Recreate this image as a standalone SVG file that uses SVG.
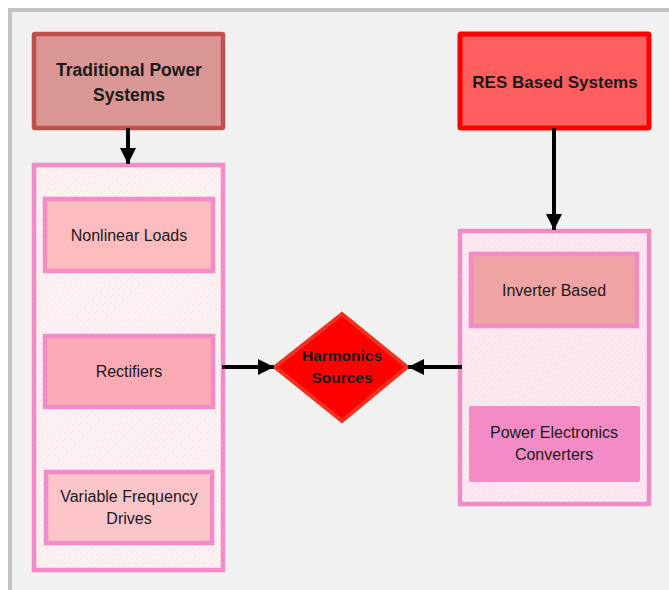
<svg xmlns="http://www.w3.org/2000/svg" width="669" height="590" viewBox="0 0 669 590">
<style>
.t{font-family:"Liberation Sans","DejaVu Sans",sans-serif;fill:#1a1a1a;text-anchor:middle}
.b{font-weight:bold;font-size:17.5px}
.r{font-size:16px}
.box{stroke:#f28cc6;stroke-width:4.5}
.con{stroke-width:4;stroke:#000}
</style>
<defs>
<pattern id="hl" width="4" height="4" patternUnits="userSpaceOnUse" patternTransform="rotate(45)">
<rect width="4" height="4" fill="#fcf1f3"/>
<line x1="0" y1="0" x2="0" y2="4" stroke="#f7e0e6" stroke-width="1"/>
</pattern>
<pattern id="hr" width="4" height="4" patternUnits="userSpaceOnUse" patternTransform="rotate(45)">
<rect width="4" height="4" fill="#fce9f2"/>
<line x1="0" y1="0" x2="0" y2="4" stroke="#f8d6e6" stroke-width="1"/>
</pattern>
<marker id="ah" viewBox="0 0 10 10" refX="10" refY="5" markerWidth="4" markerHeight="4" orient="auto" markerUnits="strokeWidth">
<path d="M0,0 L10,5 L0,10 z" fill="#000"/>
</marker>
</defs>
<rect x="10" y="10" width="720" height="640" fill="#f1f1f1" stroke="#c3c3c3" stroke-width="4"/>

<g id="trad">
<rect x="34" y="34" width="189" height="94" fill="#d99694" stroke="#c0504d" stroke-width="4.5" rx="1"/>
<text class="t b" x="129" y="76">Traditional Power</text>
<text class="t b" x="129" y="101">Systems</text>
</g>
<g id="res">
<rect x="460" y="34" width="189" height="94" fill="#ff5f5f" stroke="#ff0000" stroke-width="5" rx="1"/>
<text class="t b" style="font-size:17px" x="555" y="88">RES Based Systems</text>
</g>
<g id="leftgroup">
<rect x="34" y="165" width="189" height="405" fill="url(#hl)" class="box"/>
</g>
<g id="nonlinear">
<rect x="45" y="199" width="168" height="72" fill="#fdbcbd" class="box"/>
<text class="t r" x="129" y="241">Nonlinear Loads</text>
</g>
<g id="rectifiers">
<rect x="45" y="336" width="168" height="71" fill="#fcaab5" class="box"/>
<text class="t r" x="129" y="377">Rectifiers</text>
</g>
<g id="vfd">
<rect x="46" y="472" width="166" height="71" fill="#fcc5c9" class="box"/>
<text class="t r" x="129" y="502">Variable Frequency</text>
<text class="t r" x="129" y="524">Drives</text>
</g>
<g id="rightgroup">
<rect x="460" y="231" width="189" height="273" fill="url(#hr)" class="box"/>
</g>
<g id="inverter">
<rect x="471" y="254" width="166" height="72" fill="#f0a3a3" class="box"/>
<text class="t r" x="554" y="296">Inverter Based</text>
</g>
<g id="pec">
<rect x="469" y="406" width="171" height="76" fill="#f38cc6" rx="2"/>
<text class="t r" x="554" y="438">Power Electronics</text>
<text class="t r" x="554" y="460">Converters</text>
</g>
<g id="harmonics">
<polygon points="275,367 342,314 407,367 342,421" fill="#ff0000" stroke="#f2301e" stroke-width="4" stroke-linejoin="miter"/>
<text class="t" style="font-weight:bold;font-size:15.5px" x="342" y="361">Harmonics</text>
<text class="t" style="font-weight:bold;font-size:15.5px" x="342" y="383">Sources</text>
</g>
<g id="connectors">
<line class="con" x1="128" y1="128" x2="128" y2="164" marker-end="url(#ah)"/>
<line class="con" x1="554" y1="128" x2="554" y2="230" marker-end="url(#ah)"/>
<line class="con" x1="222" y1="367" x2="274" y2="367" marker-end="url(#ah)"/>
<line class="con" x1="462" y1="367" x2="408" y2="367" marker-end="url(#ah)"/>
</g>
</svg>
